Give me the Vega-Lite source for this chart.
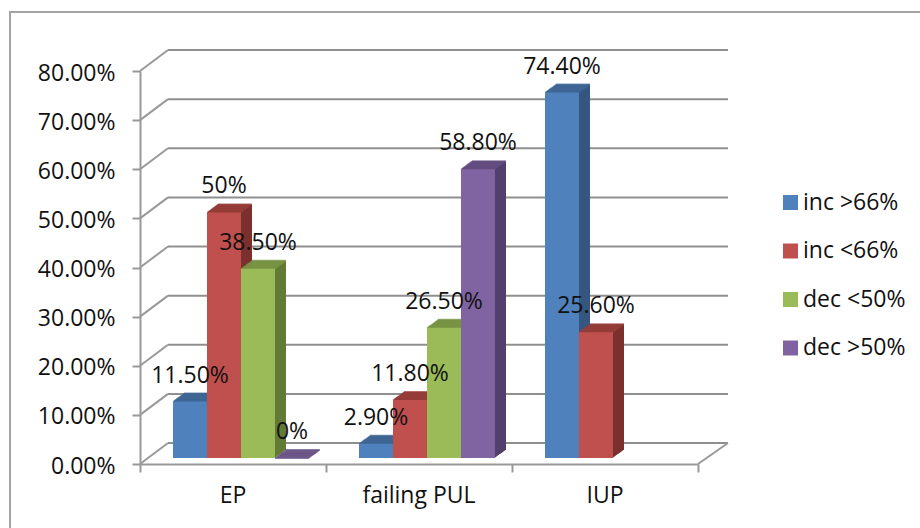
{
"$schema":"https://vega.github.io/schema/vega-lite/v6.json",
"width":912,"height":518,
"autosize":{"type":"none"},
"padding":{"left":10,"top":12,"right":0,"bottom":0},
"background":"white",
"view":{"stroke":"#a3a3a3","strokeWidth":2,"fill":"white"},
"config":{"font":"Open Sans"},
"datasets":{
"bars":[
{"site":"EP","series":"inc >66%","rate":0.115,"label":"11.50%"},
{"site":"EP","series":"inc <66%","rate":0.5,"label":"50%"},
{"site":"EP","series":"dec <50%","rate":0.385,"label":"38.50%"},
{"site":"EP","series":"dec >50%","rate":0,"label":"0%"},
{"site":"failing PUL","series":"inc >66%","rate":0.029,"label":"2.90%"},
{"site":"failing PUL","series":"inc <66%","rate":0.118,"label":"11.80%"},
{"site":"failing PUL","series":"dec <50%","rate":0.265,"label":"26.50%"},
{"site":"failing PUL","series":"dec >50%","rate":0.588,"label":"58.80%"},
{"site":"IUP","series":"inc >66%","rate":0.744,"label":"74.40%"},
{"site":"IUP","series":"inc <66%","rate":0.256,"label":"25.60%"}
],
"levels":[{"rate":0},{"rate":0.1},{"rate":0.2},{"rate":0.3},{"rate":0.4},{"rate":0.5},{"rate":0.6},{"rate":0.7},{"rate":0.8}],
"floor":[{"rate":0}]
},
"resolve":{"scale":{"x":"independent","color":"independent"},"axis":{"x":"independent"}},
"encoding":{
"y":{"field":"rate","type":"quantitative","scale":{"domain":[0,0.8],"range":[452,59],"nice":false},"axis":{"values":[0,0.1,0.2,0.3,0.4,0.5,0.6,0.7,0.8],"format":".2%","title":null,"grid":false,"offset":-130,"domainColor":"#999999","domainWidth":2,"tickColor":"#999999","tickWidth":2,"tickSize":8,"labelFontSize":23,"labelColor":"#111111","labelPadding":17,"labelFont":"Open Sans","labelOffset":2}}
},
"layer":[
{"data":{"name":"levels"},
"encoding":{"x":{"datum":0,"type":"quantitative","scale":{"domain":[0,3],"range":[130,688]},"axis":{"orient":"bottom","values":[0,1,2,3],"labels":false,"title":null,"grid":false,"offset":-66,"domainColor":"#999999","domainWidth":2,"tickColor":"#999999","tickWidth":2,"tickSize":8}},"y2":{"field":"rate"}},
"layer":[
{"mark":{"type":"rule","color":"#8f8f8f","strokeWidth":2,"xOffset":28,"yOffset":-21,"x2Offset":30,"y2Offset":-21},"encoding":{"x2":{"datum":3}}},
{"mark":{"type":"rule","color":"#999999","strokeWidth":2,"x2Offset":28,"y2Offset":-21},"encoding":{"x2":{"datum":0}}}
]},
{"data":{"name":"floor"},
"mark":{"type":"rule","color":"#999999","strokeWidth":2,"x2Offset":30,"y2Offset":-21},
"encoding":{"x":{"datum":3,"type":"quantitative","scale":{"domain":[0,3],"range":[130,688]},"axis":null},"x2":{"datum":3},"y2":{"field":"rate"}}},
{"data":{"name":"bars"},
"resolve":{"scale":{"xOffset":"independent"}},
"encoding":{
"x":{"field":"site","type":"nominal","sort":null,"scale":{"type":"band","domain":["EP","failing PUL","IUP"],"range":[130,688],"paddingInner":0.2688,"paddingOuter":0.1344},"axis":null},
"color":{"field":"series","type":"nominal","legend":null,"scale":{"domain":["inc >66%","inc <66%","dec <50%","dec >50%"],"range":["#34567f","#7c302e","#637a37","#533f6c"]}},
"y2":{"datum":0}
},
"layer":[
{"mark":{"type":"bar","yOffset":-6.73,"y2Offset":-6.73},"encoding":{"xOffset":{"field":"series","scale":{"domain":["inc >66%","inc <66%","dec <50%","dec >50%"],"range":[9,145]}}}},
{"mark":{"type":"bar","yOffset":-7.45,"y2Offset":-7.45},"encoding":{"xOffset":{"field":"series","scale":{"domain":["inc >66%","inc <66%","dec <50%","dec >50%"],"range":[10,146]}}}},
{"mark":{"type":"bar","yOffset":-8.18,"y2Offset":-8.18},"encoding":{"xOffset":{"field":"series","scale":{"domain":["inc >66%","inc <66%","dec <50%","dec >50%"],"range":[11,147]}}}},
{"mark":{"type":"bar","yOffset":-8.91,"y2Offset":-8.91},"encoding":{"xOffset":{"field":"series","scale":{"domain":["inc >66%","inc <66%","dec <50%","dec >50%"],"range":[12,148]}}}},
{"mark":{"type":"bar","yOffset":-9.64,"y2Offset":-9.64},"encoding":{"xOffset":{"field":"series","scale":{"domain":["inc >66%","inc <66%","dec <50%","dec >50%"],"range":[13,149]}}}},
{"mark":{"type":"bar","yOffset":-10.36,"y2Offset":-10.36},"encoding":{"xOffset":{"field":"series","scale":{"domain":["inc >66%","inc <66%","dec <50%","dec >50%"],"range":[14,150]}}}},
{"mark":{"type":"bar","yOffset":-11.09,"y2Offset":-11.09},"encoding":{"xOffset":{"field":"series","scale":{"domain":["inc >66%","inc <66%","dec <50%","dec >50%"],"range":[15,151]}}}},
{"mark":{"type":"bar","yOffset":-11.82,"y2Offset":-11.82},"encoding":{"xOffset":{"field":"series","scale":{"domain":["inc >66%","inc <66%","dec <50%","dec >50%"],"range":[16,152]}}}},
{"mark":{"type":"bar","yOffset":-12.55,"y2Offset":-12.55},"encoding":{"xOffset":{"field":"series","scale":{"domain":["inc >66%","inc <66%","dec <50%","dec >50%"],"range":[17,153]}}}},
{"mark":{"type":"bar","yOffset":-13.27,"y2Offset":-13.27},"encoding":{"xOffset":{"field":"series","scale":{"domain":["inc >66%","inc <66%","dec <50%","dec >50%"],"range":[18,154]}}}},
{"mark":{"type":"bar","yOffset":-14,"y2Offset":-14},"encoding":{"xOffset":{"field":"series","scale":{"domain":["inc >66%","inc <66%","dec <50%","dec >50%"],"range":[19,155]}}}}
]},
{"data":{"name":"bars"},
"resolve":{"scale":{"xOffset":"independent"}},
"encoding":{
"x":{"field":"site","type":"nominal","sort":null,"scale":{"type":"band","domain":["EP","failing PUL","IUP"],"range":[130,688],"paddingInner":0.2688,"paddingOuter":0.1344},"axis":null},
"color":{"field":"series","type":"nominal","legend":null,"scale":{"domain":["inc >66%","inc <66%","dec <50%","dec >50%"],"range":["#3e6795","#973d3b","#7a9446","#654f82"]}}
},
"layer":[
{"mark":{"type":"tick","size":34,"thickness":2,"yOffset":-6},"encoding":{"xOffset":{"field":"series","scale":{"domain":["inc >66%","inc <66%","dec <50%","dec >50%"],"range":[8,144]}}}},
{"mark":{"type":"tick","size":34,"thickness":2,"yOffset":-6.73},"encoding":{"xOffset":{"field":"series","scale":{"domain":["inc >66%","inc <66%","dec <50%","dec >50%"],"range":[9,145]}}}},
{"mark":{"type":"tick","size":34,"thickness":2,"yOffset":-7.45},"encoding":{"xOffset":{"field":"series","scale":{"domain":["inc >66%","inc <66%","dec <50%","dec >50%"],"range":[10,146]}}}},
{"mark":{"type":"tick","size":34,"thickness":2,"yOffset":-8.18},"encoding":{"xOffset":{"field":"series","scale":{"domain":["inc >66%","inc <66%","dec <50%","dec >50%"],"range":[11,147]}}}},
{"mark":{"type":"tick","size":34,"thickness":2,"yOffset":-8.91},"encoding":{"xOffset":{"field":"series","scale":{"domain":["inc >66%","inc <66%","dec <50%","dec >50%"],"range":[12,148]}}}},
{"mark":{"type":"tick","size":34,"thickness":2,"yOffset":-9.64},"encoding":{"xOffset":{"field":"series","scale":{"domain":["inc >66%","inc <66%","dec <50%","dec >50%"],"range":[13,149]}}}},
{"mark":{"type":"tick","size":34,"thickness":2,"yOffset":-10.36},"encoding":{"xOffset":{"field":"series","scale":{"domain":["inc >66%","inc <66%","dec <50%","dec >50%"],"range":[14,150]}}}},
{"mark":{"type":"tick","size":34,"thickness":2,"yOffset":-11.09},"encoding":{"xOffset":{"field":"series","scale":{"domain":["inc >66%","inc <66%","dec <50%","dec >50%"],"range":[15,151]}}}},
{"mark":{"type":"tick","size":34,"thickness":2,"yOffset":-11.82},"encoding":{"xOffset":{"field":"series","scale":{"domain":["inc >66%","inc <66%","dec <50%","dec >50%"],"range":[16,152]}}}},
{"mark":{"type":"tick","size":34,"thickness":2,"yOffset":-12.55},"encoding":{"xOffset":{"field":"series","scale":{"domain":["inc >66%","inc <66%","dec <50%","dec >50%"],"range":[17,153]}}}},
{"mark":{"type":"tick","size":34,"thickness":2,"yOffset":-13.27},"encoding":{"xOffset":{"field":"series","scale":{"domain":["inc >66%","inc <66%","dec <50%","dec >50%"],"range":[18,154]}}}},
{"mark":{"type":"tick","size":34,"thickness":2,"yOffset":-14},"encoding":{"xOffset":{"field":"series","scale":{"domain":["inc >66%","inc <66%","dec <50%","dec >50%"],"range":[19,155]}}}}
]},
{"data":{"name":"bars"},
"encoding":{
"x":{"field":"site","type":"nominal","sort":null,"scale":{"type":"band","domain":["EP","failing PUL","IUP"],"range":[130,688],"paddingInner":0.2688,"paddingOuter":0.1344},
"axis":{"orient":"bottom","title":null,"labelAngle":0,"offset":-66,"domain":false,"ticks":false,"labelFontSize":23,"labelColor":"#111111","labelPadding":20,"labelFont":"Open Sans"}},
"xOffset":{"field":"series","scale":{"domain":["inc >66%","inc <66%","dec <50%","dec >50%"],"range":[8,144]}}
},
"layer":[
{"mark":{"type":"bar","yOffset":-6,"y2Offset":-6},
"encoding":{"y2":{"datum":0},
"color":{"field":"series","type":"nominal","scale":{"domain":["inc >66%","inc <66%","dec <50%","dec >50%"],"range":["#4f81bd","#c0504d","#9bbb59","#8064a2"]},
"legend":{"title":null,"orient":"none","legendX":769,"legendY":179,"symbolType":"square","symbolSize":225,"symbolStrokeWidth":0,"symbolOpacity":1,"labelFontSize":23,"labelColor":"#111111","labelFont":"Open Sans","labelOffset":1,"rowPadding":24.5,"labelLimit":200}}}},
{"mark":{"type":"text","font":"Open Sans","fontSize":23,"color":"#111111","dy":-32,"align":"center","baseline":"middle"},"encoding":{"text":{"field":"label"}}}
]}
]
}
